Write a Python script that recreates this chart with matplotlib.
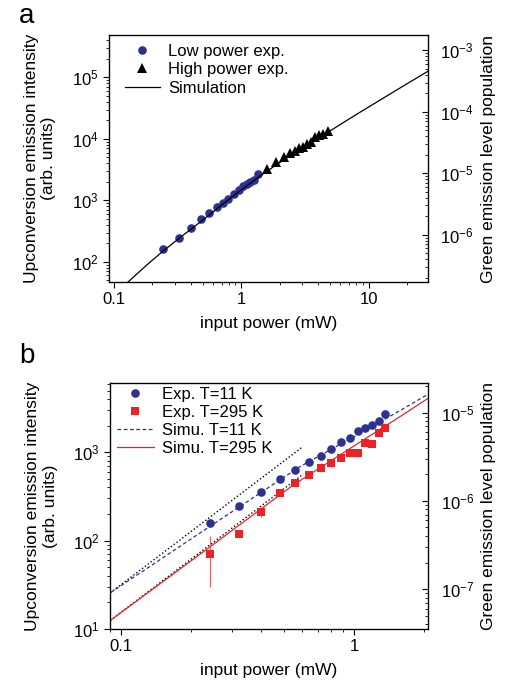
import matplotlib
matplotlib.use("Agg")
import matplotlib.pyplot as plt
from matplotlib.ticker import LogLocator, NullFormatter, FuncFormatter

plt.rcParams['font.family'] = ['Liberation Sans', 'DejaVu Sans']
plt.rcParams['font.size'] = 12

BLUE = '#2e3192'
RED = '#ec2227'

# panel a: power dependence of upconversion emission
low_power = [0.244, 0.324, 0.402, 0.481, 0.556, 0.639, 0.713, 0.788, 0.879, 0.962,
             1.033, 1.10, 1.18, 1.26, 1.355]
low_signal = [161, 245, 353, 500, 619, 775, 910, 1070, 1290, 1465,
              1740, 1855, 2000, 2150, 2700]
high_power = [1.58, 1.87, 2.16, 2.43, 2.64, 2.84, 3.05, 3.28, 3.55, 3.77, 4.05, 4.34, 4.80]
high_signal = [3210, 4180, 5150, 5980, 6450, 7140, 7500, 8300, 9040, 10700, 11500, 11900, 13500]
sim_power = [0.129, 0.18, 0.244, 0.35, 0.5, 0.7, 1.0, 1.5, 2.2, 3.3, 5.0, 8.0, 13, 20, 29.2]
sim_signal = [47, 88, 151, 272, 481, 840, 1480, 2750, 4700, 8000, 13600, 25000, 46000, 79000, 126000]

# panel b: temperature dependence
exp_power = [0.24, 0.32, 0.40, 0.48, 0.56, 0.64, 0.72, 0.80, 0.88, 0.96,
             1.04, 1.12, 1.20, 1.28, 1.36]
exp_11k = [160, 247, 355, 494, 625, 776, 915, 1090, 1308, 1466,
           1757, 1900, 2037, 2260, 2690]
err_11k = [14, 10, 12, 15, 20, 25, 70, 40, 30, 35, 40, 40, 40, 45, 50]
exp_295k = [71, 119, 212, 349, 449, 553, 664, 750, 869, 973,
            990, 1275, 1240, 1667, 1883]
err_295k = [41, 10, 25, 20, 15, 15, 20, 70, 25, 30, 110, 40, 35, 40, 40]
simu_11k_power = [0.09, 0.24, 0.586, 1.0, 1.574, 2.08]
simu_11k = [25.7, 144, 687, 1500, 2960, 4540]
simu_295k_power = [0.09, 0.241, 0.549, 1.0, 1.574, 2.08]
simu_295k = [12.5, 85, 427, 1180, 2530, 4085]
quad_hi_power = [0.09, 0.596]
quad_hi = [25.7, 1130]
quad_lo_power = [0.09, 0.606]
quad_lo = [12.5, 567]

POP_A = 10 ** -8.44
POP_B = 10 ** -8.45


def style(ax, ylim, scale):
    ax.set_xscale('log')
    ax.set_yscale('log')
    ax.set_ylim(ylim)
    ax.tick_params(which='both', direction='out', top=False, right=False, labelsize=12)
    ax.tick_params(which='major', length=4, width=0.8)
    ax.tick_params(which='minor', length=2.5, width=0.6)
    ax.yaxis.set_minor_locator(LogLocator(base=10, subs=range(2, 10), numticks=20))
    ax.yaxis.set_minor_formatter(NullFormatter())
    ax.xaxis.set_major_formatter(FuncFormatter(lambda v, p: '%g' % v))
    ax.xaxis.set_minor_formatter(NullFormatter())
    ax.set_xlabel('input power (mW)', fontsize=12.5, labelpad=6)
    ax.set_ylabel('Upconversion emission intensity\n(arb. units)', fontsize=12.5,
                  linespacing=1.2)
    ax.yaxis.set_label_coords(-0.165, 0.5)
    for s in ax.spines.values():
        s.set_linewidth(0.9)
    ax2 = ax.twinx()
    ax2.set_yscale('log')
    ax2.set_ylim(ylim[0] * scale, ylim[1] * scale)
    ax2.tick_params(which='both', direction='in', labelsize=12, pad=9)
    ax2.tick_params(which='major', length=4, width=0.8)
    ax2.tick_params(which='minor', length=2.5, width=0.6)
    ax2.yaxis.set_minor_locator(LogLocator(base=10, subs=range(2, 10), numticks=20))
    ax2.yaxis.set_minor_formatter(NullFormatter())
    ax2.set_ylabel('Green emission level population', fontsize=12.5, labelpad=5)
    return ax2


fig = plt.figure(figsize=(5.09, 6.88), dpi=100)

# ---- panel a
ax = fig.add_axes([0.2141, 0.5901, 0.6267, 0.359])
h_sim, = ax.plot(sim_power, sim_signal, color='k', lw=0.9, zorder=3)
h_low, = ax.plot(low_power, low_signal, 'o', color=BLUE, ms=6.2, mew=0, zorder=2)
h_high, = ax.plot(high_power, high_signal, '^', color='k', ms=7, mew=0, zorder=2)
ax.set_xlim(0.0914, 29.2)
style(ax, (47, 4.9e5), POP_A)
ax.legend([h_low, h_high, h_sim], ['Low power exp.', 'High power exp.', 'Simulation'],
          loc='upper left', bbox_to_anchor=(0.05, 0.965), frameon=False, fontsize=12,
          borderpad=0, borderaxespad=0, labelspacing=0.22, handlelength=2.1,
          handletextpad=0.5)

# ---- panel b
bx = fig.add_axes([0.2161, 0.0858, 0.6248, 0.3576])
bx.plot(quad_hi_power, quad_hi, color='k', lw=1, ls=(0, (1, 1.6)), zorder=2)
bx.plot(quad_lo_power, quad_lo, color='k', lw=1, ls=(0, (1, 1.6)), zorder=2)
h_s11, = bx.plot(simu_11k_power, simu_11k, color=BLUE, lw=0.9, ls=(0, (3, 2)), zorder=2)
h_s295, = bx.plot(simu_295k_power, simu_295k, color=RED, lw=0.9, zorder=2)
h_e11 = bx.errorbar(exp_power, exp_11k, yerr=err_11k, fmt='o', color=BLUE, ms=6.2, mew=0,
                    elinewidth=0.8, capsize=3, capthick=0.8, zorder=3)
h_e295 = bx.errorbar(exp_power, exp_295k, yerr=err_295k, fmt='s', color=RED, ms=5.8, mew=0,
                     elinewidth=0.8, capsize=3, capthick=0.8, ecolor='#f06060', zorder=3)
bx.set_xlim(0.0897, 2.08)
style(bx, (10, 6100), POP_B)
bx.legend([h_e11[0], h_e295[0], h_s11, h_s295],
          ['Exp. T=11 K', 'Exp. T=295 K', 'Simu. T=11 K', 'Simu. T=295 K'],
          loc='upper left', bbox_to_anchor=(0.022, 0.985), frameon=False, fontsize=12,
          borderpad=0, borderaxespad=0, labelspacing=0.18, handlelength=2.2,
          handletextpad=0.5)

fig.text(0.038, 0.995, 'a', fontsize=20, va='top')
fig.text(0.038, 0.502, 'b', fontsize=20, va='top')

fig.savefig('out.png', dpi=100)
